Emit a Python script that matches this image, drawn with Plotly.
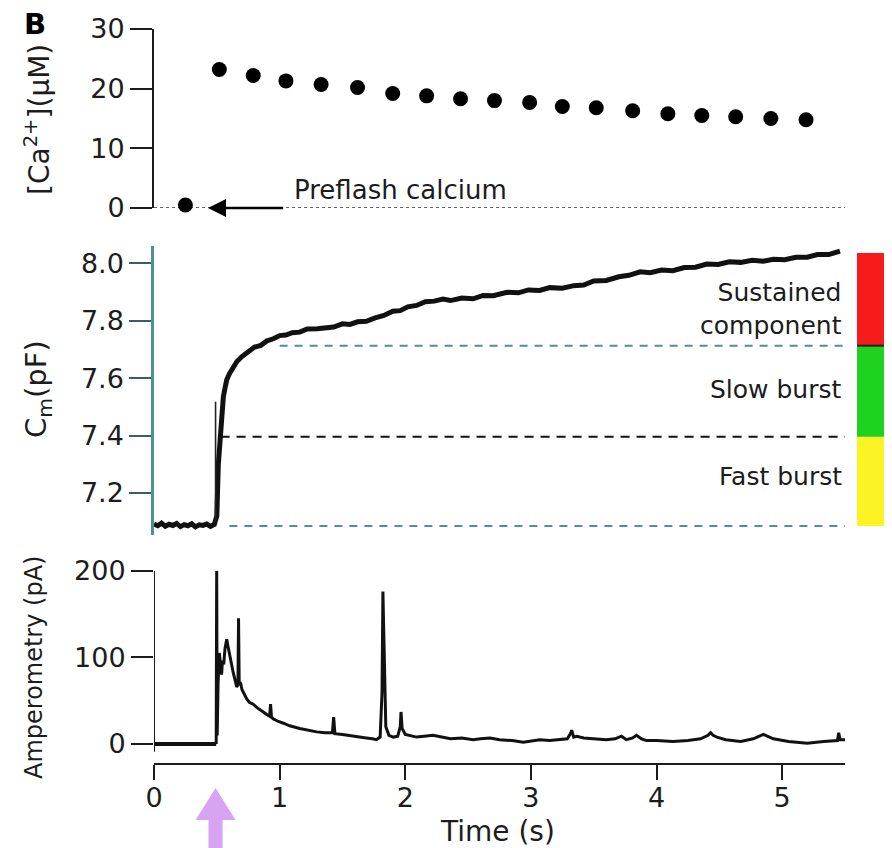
import plotly.graph_objects as go

# ---------------- data ----------------
# [Ca2+] after flash (uM)
ca_t = [0.52, 0.79, 1.05, 1.33, 1.62, 1.90, 2.17, 2.44, 2.71, 2.99, 3.25, 3.52,
        3.81, 4.09, 4.36, 4.63, 4.91, 5.19]
ca_v = [23.2, 22.2, 21.3, 20.7, 20.2, 19.2, 18.8, 18.3, 18.0, 17.7, 17.0, 16.8,
        16.3, 15.8, 15.5, 15.3, 15.0, 14.8]
preflash_t = [0.25]
preflash_v = [0.5]

# membrane capacitance (pF)
cm_t = [0.00, 0.03, 0.06, 0.09, 0.12, 0.15, 0.18, 0.21, 0.24, 0.27, 0.30, 0.33,
        0.36, 0.39, 0.42, 0.45, 0.48, 0.50,
        0.512, 0.525, 0.539, 0.552, 0.565, 0.579, 0.60, 0.63, 0.66, 0.70, 0.73,
        0.76, 0.80, 0.85, 0.90, 0.95, 1.00, 1.05, 1.10, 1.16, 1.22, 1.30, 1.36,
        1.43, 1.50, 1.56, 1.62, 1.69, 1.76, 1.83, 1.90, 1.96, 2.02, 2.09, 2.16,
        2.23, 2.30, 2.36, 2.45, 2.54, 2.62, 2.70, 2.81, 2.90, 2.98, 3.07, 3.15,
        3.25, 3.34, 3.42, 3.50, 3.60, 3.70, 3.78, 3.87, 3.95, 4.04, 4.13, 4.22,
        4.31, 4.40, 4.49, 4.58, 4.67, 4.76, 4.85, 4.93, 5.02, 5.11, 5.20, 5.28,
        5.37, 5.46]
cm_v = [7.092, 7.086, 7.095, 7.084, 7.091, 7.087, 7.094, 7.083, 7.090, 7.086, 7.093, 7.082,
        7.089, 7.087, 7.092, 7.084, 7.090, 7.120,
        7.300, 7.396, 7.490, 7.535, 7.565, 7.594, 7.615, 7.640, 7.658, 7.675, 7.685,
        7.692, 7.708, 7.714, 7.730, 7.737, 7.748, 7.750, 7.758, 7.760, 7.771, 7.772, 7.776,
        7.778, 7.789, 7.787, 7.796, 7.798, 7.810, 7.818, 7.833, 7.835, 7.848, 7.853, 7.866,
        7.868, 7.875, 7.870, 7.879, 7.876, 7.888, 7.887, 7.899, 7.897, 7.907, 7.905, 7.915,
        7.913, 7.922, 7.924, 7.938, 7.940, 7.953, 7.958, 7.970, 7.967, 7.976, 7.974, 7.985,
        7.986, 7.997, 7.996, 8.005, 8.003, 8.010, 8.007, 8.014, 8.012, 8.021, 8.021, 8.030,
        8.030, 8.042]
cm_spike_t = [0.49, 0.49]
cm_spike_v = [7.10, 7.518]

# component boundaries (pF): baseline, fast burst top, slow burst top, sustained top
component_levels = [7.085, 7.396, 7.713, 8.036]
component_names = ["Fast burst", "Slow burst", "Sustained<br>component"]
component_colors = ["#fbf323", "#1fd21f", "#f71b1b"]
dash_start_t = [0.60, 0.53, 1.00]

# amperometry (pA)
amp_t = [0.00, 0.10, 0.20, 0.30, 0.40, 0.495, 0.499, 0.503, 0.51, 0.52, 0.53, 0.538,
         0.545, 0.555, 0.565, 0.579, 0.59, 0.605, 0.62, 0.631, 0.645, 0.658, 0.668,
         0.673, 0.678, 0.69, 0.70, 0.72, 0.738, 0.76, 0.79, 0.82, 0.844, 0.87, 0.897,
         0.92, 0.928, 0.935, 0.95, 0.99, 1.03, 1.08, 1.16, 1.22, 1.295, 1.36, 1.42,
         1.43, 1.44, 1.50, 1.56, 1.62, 1.69, 1.74, 1.77, 1.80, 1.815, 1.822, 1.83,
         1.845, 1.87, 1.905, 1.94, 1.96, 1.966, 1.975, 2.00, 2.05, 2.09, 2.15, 2.22,
         2.29, 2.36, 2.45, 2.54, 2.60, 2.675, 2.75, 2.85, 2.94, 3.00, 3.07, 3.15,
         3.21, 3.29, 3.315, 3.325, 3.34, 3.365, 3.42, 3.50, 3.60, 3.67, 3.72, 3.76,
         3.81, 3.84, 3.88, 3.92, 4.00, 4.13, 4.25, 4.35, 4.41, 4.43, 4.45, 4.48,
         4.55, 4.67, 4.77, 4.85, 4.90, 4.93, 5.05, 5.20, 5.33, 5.44, 5.45, 5.46, 5.50]
amp_v = [0, 0, 0, 0, 0, 0, 200, 10, 70, 105, 85, 80,
         96, 92, 110, 121, 112, 100, 90, 82, 74, 66, 68,
         145, 72, 70, 63, 57, 52, 48, 46, 42, 40, 37, 34,
         32, 46, 31, 29, 26, 24, 21, 18, 16, 14, 13, 13,
         31, 12, 11, 10, 9, 7, 6, 5, 8, 60, 176, 120,
         20, 10, 8, 9, 20, 37, 18, 11, 9, 8, 9, 10,
         8, 6, 7, 5, 6, 7, 5, 4, 2, 3, 5, 4,
         5, 6, 12, 16, 8, 9, 7, 6, 5, 6, 9, 5,
         7, 10, 6, 4, 4, 3, 4, 6, 10, 13, 10, 8,
         5, 3, 6, 11, 8, 6, 3, 1, 3, 4, 13, 5, 5]

flash_t = 0.49
x_ticks = [0, 1, 2, 3, 4, 5]
ca_ticks = [0, 10, 20, 30]
cm_ticks = [7.2, 7.4, 7.6, 7.8, 8.0]
amp_ticks = [0, 100, 200]

# ---------------- layout helpers ----------------
# the page body has an 8px margin, so the figure is drawn 8px in from the window corner
OFF = 8
W, H = 892 - OFF, 848 - OFF
PL, PR = 154, 845          # plot-area edges in window pixels
FONT = "DejaVu Sans"
INK = "#1c1c1c"
TEAL = "#4f9097"


def py(p):   # window pixel row -> paper y
    return 1 - (p - OFF) / H


def px(p):   # window pixel column -> paper x
    return (p - PL) / (PR - PL)


fig = go.Figure()

# top panel: calcium
fig.add_trace(go.Scatter(x=preflash_t + ca_t, y=preflash_v + ca_v, mode="markers",
                         marker=dict(size=15, color="black"), cliponaxis=False,
                         xaxis="x", yaxis="y", showlegend=False))

# middle panel: capacitance
fig.add_trace(go.Scatter(x=cm_t, y=cm_v, mode="lines",
                         line=dict(color="#111", width=5), xaxis="x2", yaxis="y2",
                         showlegend=False))
fig.add_trace(go.Scatter(x=cm_spike_t, y=cm_spike_v, mode="lines",
                         line=dict(color="#222", width=1.6), xaxis="x2", yaxis="y2",
                         showlegend=False))
dash_colors = [TEAL, "#111", TEAL]
dash_styles = ["8px,7px", "9px,7px", "8px,7px"]
for lvl, t0, c, d in zip(component_levels[:3], dash_start_t, dash_colors, dash_styles):
    fig.add_trace(go.Scatter(x=[t0, 5.5], y=[lvl, lvl], mode="lines",
                             line=dict(color=c, width=2, dash=d), xaxis="x2", yaxis="y2",
                             showlegend=False, cliponaxis=False))

# bottom panel: amperometry (pre-flash baseline drawn heavier, as in the original)
n_pre = 6
fig.add_trace(go.Scatter(x=amp_t[:n_pre], y=amp_v[:n_pre], mode="lines",
                         line=dict(color="#111", width=4), xaxis="x3", yaxis="y3",
                         showlegend=False, cliponaxis=False))
fig.add_trace(go.Scatter(x=amp_t[n_pre - 1:], y=amp_v[n_pre - 1:], mode="lines",
                         line=dict(color="#111", width=3), xaxis="x3", yaxis="y3",
                         showlegend=False, cliponaxis=False))

shapes = []
annotations = []


def ann(x, y, text, size, **kw):
    d = dict(x=x, y=y, xref="paper", yref="paper", text=text, showarrow=False,
             xanchor="center", yanchor="middle",
             font=dict(size=size, color=kw.pop("color", INK), family=FONT))
    d.update(kw)
    return d


# dotted zero line of the calcium panel
shapes.append(dict(type="line", xref="x", yref="y", x0=0, x1=5.5, y0=0, y1=0,
                   line=dict(color="#333", width=1.6, dash="dot"), layer="below"))
# preflash arrow
annotations.append(dict(x=0.43, y=0, ax=1.04, ay=0, xref="x", yref="y", axref="x", ayref="y",
                        showarrow=True, arrowhead=2, arrowsize=1.5, arrowwidth=2.4,
                        arrowcolor="black", text=""))
annotations.append(ann(px(292), py(190), "Preflash calcium", 26, xanchor="left"))

# colour bar of components
bx0, bx1 = px(857), px(884)
for i in range(3):
    shapes.append(dict(type="rect", xref="paper", yref="y2", x0=bx0, x1=bx1,
                       y0=component_levels[i], y1=component_levels[i + 1],
                       fillcolor=component_colors[i], line=dict(width=0)))
shapes.append(dict(type="line", xref="paper", yref="y2", x0=bx0, x1=bx1,
                   y0=component_levels[2], y1=component_levels[2],
                   line=dict(color="#222", width=2)))
label_rows = [476, 390, 309]   # window pixel rows of the component labels
for i in range(3):
    annotations.append(ann(px(844), py(label_rows[i]), component_names[i], 25,
                           xanchor="right", align="right"))

# detached y axis line of the amperometry panel
shapes.append(dict(type="line", xref="x3", yref="y3", x0=0, x1=0, y0=-9, y1=200,
                   line=dict(color=INK, width=2)))

# flash arrow (light purple)
tip, base = py(788), py(820)
hw, sw = 0.159, 0.056
shapes.append(dict(type="path", xref="x3", yref="paper",
                   path=(f"M {flash_t},{tip} L {flash_t + hw},{base} L {flash_t + sw},{base} "
                         f"L {flash_t + sw},0 L {flash_t - sw},0 L {flash_t - sw},{base} "
                         f"L {flash_t - hw},{base} Z"),
                   fillcolor="#d7a3f2", line=dict(width=0)))

# titles
annotations += [
    ann(px(35), py(24), "<b>B</b>", 29, color="black"),
    ann(px(38), py(120), "[Ca<sup>2+</sup>](μM)", 28, textangle=-90),
    ann(px(38), py(389), "C<sub>m</sub>(pF)", 29, textangle=-90),
    ann(px(34), py(668), "Amperometry (pA)", 24, textangle=-90),
    ann(px(497), py(831), "Time (s)", 28),
]

tickfont = dict(size=27, color=INK, family=FONT)
yax_common = dict(ticks="outside", ticklen=22, tickwidth=2, showgrid=False, zeroline=False,
                  tickfont=tickfont, fixedrange=True, automargin=False)

fig.update_layout(
    width=W, height=H,
    margin=dict(l=PL - OFF, r=W - (PR - OFF), t=0, b=0, autoexpand=False),
    paper_bgcolor="white", plot_bgcolor="white",
    font=dict(family=FONT, color=INK),
    xaxis=dict(domain=[0, 1], range=[0, 5.5], visible=False, anchor="y"),
    yaxis=dict(domain=[py(208), py(29)], range=[0, 30], tickvals=ca_ticks,
               showline=True, linecolor=INK, linewidth=2, tickcolor=INK, anchor="x",
               **yax_common),
    xaxis2=dict(domain=[0, 1], range=[0, 5.5], visible=False, anchor="y2"),
    yaxis2=dict(domain=[py(535), py(246)], range=[7.0537, 8.060], tickvals=cm_ticks,
                tickformat=".1f", showline=True, linecolor=TEAL, linewidth=2.5,
                tickcolor="#3a5f63", anchor="x2", **yax_common),
    xaxis3=dict(domain=[0, 1], range=[0, 5.5], tickvals=x_ticks, ticks="outside",
                ticklen=15, tickwidth=2, tickcolor=INK, showline=True, linecolor=INK,
                linewidth=2, showgrid=False, zeroline=False, tickfont=tickfont,
                ticklabelstandoff=-5,
                anchor="y3", fixedrange=True, automargin=False),
    yaxis3=dict(domain=[py(763), py(570.7)], range=[-21.9, 200], tickvals=amp_ticks,
                showline=False, tickcolor=INK, anchor="x3", **yax_common),
    shapes=shapes,
    annotations=annotations,
)

fig.write_html("out.html")
